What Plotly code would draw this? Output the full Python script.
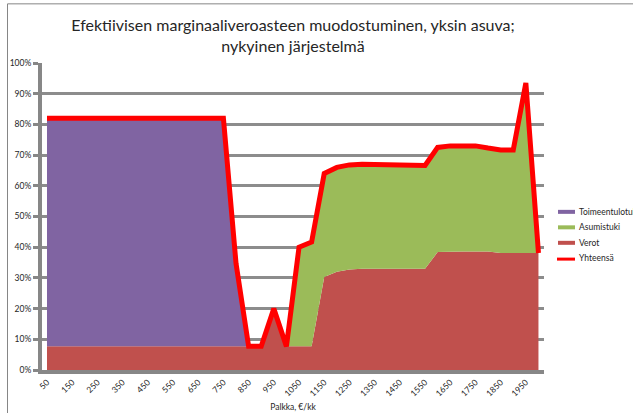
import plotly.graph_objects as go

palkka = list(range(50, 2001, 50))

verot = [7.7]*18 + [20, 7.7, 7.7, 7.7, 30.3, 32, 32.7, 33, 33, 33, 33, 33, 33,
                     38.4, 38.6, 38.6, 38.6, 38.6, 38.1, 38.1, 38.1, 38.1]
toimeentulotuki = [74.3]*15 + [27] + [0]*24
asumistuki = [0]*20 + [32.3, 34, 33.7, 34, 34.1, 34, 34, 34, 34, 34, 33.6,
                       34.1, 34.4, 34.4, 34.4, 33.7, 33.6, 33.6, 55.4, 0]
yhteensa = [82]*15 + [34.7, 7.7, 7.7, 20, 7.7, 40, 41.7, 64, 66, 66.8, 67, 67, 67, 67, 67, 66.6,
                      72.5, 73, 73, 73, 72.3, 71.7, 71.7, 93.5, 38.1]

yticks = [0, 10, 20, 30, 40, 50, 60, 70, 80, 90, 100]
ytext = [f"{v}%" for v in yticks]
xticks = list(range(50, 2000, 100))

legend_names = ["Toimeentulotuki", "Asumistuki", "Verot", "Yhteensä"]
legend_colors = ["#8064A2", "#9BBB59", "#C0504D", "#FF0000"]

font = "Lato"
fig = go.Figure()
fig.add_trace(go.Scatter(x=palkka, y=verot, name="Verot", stackgroup="s", mode="lines",
                         line=dict(width=0, color="#C0504D"), fillcolor="#C0504D"))
fig.add_trace(go.Scatter(x=palkka, y=asumistuki, name="Asumistuki", stackgroup="s", mode="lines",
                         line=dict(width=0, color="#9BBB59"), fillcolor="#9BBB59"))
fig.add_trace(go.Scatter(x=palkka, y=toimeentulotuki, name="Toimeentulotuki", stackgroup="s", mode="lines",
                         line=dict(width=0, color="#8064A2"), fillcolor="#8064A2"))
fig.add_trace(go.Scatter(x=palkka, y=yhteensa, name="Yhteensä", mode="lines",
                         line=dict(width=5, color="#FF0000")))

L, R, T, B = 42, 544, 62.7, 370
pw, ph = R - L, B - T
def px(x):
    return (x - L) / pw
def py(y):
    return (B - y) / ph

shapes = [dict(type="rect", xref="paper", yref="paper",
               x0=px(7.5), x1=px(650), y0=py(430), y1=py(3.5),
               line=dict(color="#868686", width=1), layer="below")]
annotations = []
leg_y = [211.7, 227.2, 242.7, 258.2]
for i, (nm, col) in enumerate(zip(legend_names, legend_colors)):
    yc = leg_y[i]
    if i < 3:
        shapes.append(dict(type="rect", xref="paper", yref="paper", x0=px(558), x1=px(575),
                           y0=py(yc + 2), y1=py(yc - 2), fillcolor=col, line=dict(width=0)))
    else:
        shapes.append(dict(type="line", xref="paper", yref="paper", x0=px(557), x1=px(575),
                           y0=py(yc + 0.8), y1=py(yc + 0.8), line=dict(color=col, width=3)))
    annotations.append(dict(text=nm, xref="paper", yref="paper", x=px(577), y=py(yc),
                            xanchor="left", yanchor="middle", showarrow=False,
                            font=dict(size=8.5, color="#262626", family=font)))

fig.update_layout(
    width=633, height=413,
    margin=dict(l=L, r=633 - R, t=T, b=413 - B, autoexpand=False),
    paper_bgcolor="white", plot_bgcolor="white",
    font=dict(family=font, color="#404040", size=8),
    title=dict(text="Efektiivisen marginaaliveroasteen muodostuminen, yksin asuva;<br>nykyinen järjestelmä",
               x=0.5, xanchor="center", xref="paper", y=0.925, yanchor="top",
               font=dict(size=16, color="#262626", family=font)),
    showlegend=False,
    xaxis=dict(range=[30.2, 2022], tickmode="array", tickvals=xticks, ticktext=[str(v) for v in xticks],
               tickangle=-45, showgrid=False, zeroline=False, showline=True, linecolor="#878787",
               linewidth=4, ticks="", tickfont=dict(size=8.5, color="#262626"),
               title=dict(text="Palkka, €/kk", font=dict(size=8.5, color="#262626"), standoff=8)),
    yaxis=dict(range=[0, 100], tickmode="array", tickvals=yticks, ticktext=ytext,
               showgrid=True, gridcolor="#8C8C8C", gridwidth=3, zeroline=False,
               showline=True, linecolor="#878787", linewidth=4, ticks="outside", ticklen=5,
               tickwidth=3, tickcolor="#878787", tickfont=dict(size=8.5, color="#262626")),
    shapes=shapes,
    annotations=annotations,
)
fig.write_html("out.html", config={"displayModeBar": False},
               post_script="document.body.style.margin='0';")
